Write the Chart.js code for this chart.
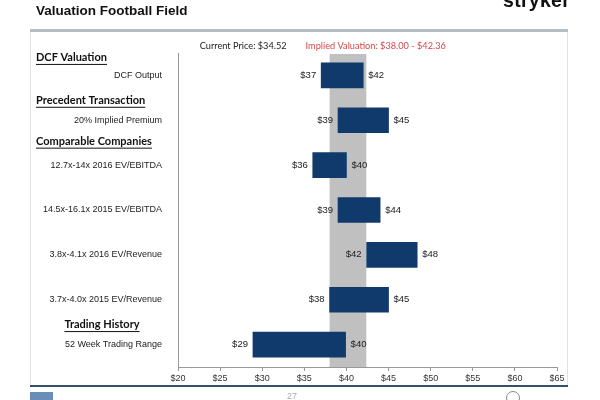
<!DOCTYPE html>
<html lang="en">
<head>
<meta charset="UTF-8">
<script src="https://cdn.jsdelivr.net/npm/chart.js@4.4.1/dist/chart.umd.min.js"></script>
<title>Valuation Football Field</title>
<style>
  body { margin: 0; background: #fff; }
  #page { position: relative; width: 600px; height: 400px; overflow: hidden; font-family: Arial, "Liberation Sans", sans-serif; }
  #chart { position: absolute; left: 0; top: 0; }
  #title { position: absolute; left: 36px; top: 3px; font-size: 13.5px; font-weight: bold; color: #111; white-space: nowrap; }
  #logo { position: absolute; left: 503px; top: -11px; font-size: 19.5px; font-weight: bold; color: #111; letter-spacing: 0.3px; }
  .rule { position: absolute; }
  #pageno { position: absolute; left: 287px; top: 391px; font-size: 9px; color: #aaa; }
</style>
</head>
<body>
<div id="page">
  <canvas id="chart" width="600" height="400"></canvas>
  <div id="title">Valuation Football Field</div>
  <div id="logo">stryker</div>
  <div class="rule" style="left:30px;top:29px;width:538px;height:3px;background:#b4bcc4;"></div>
  <div class="rule" style="left:30px;top:32px;width:1px;height:353px;background:#e2e2e2;"></div>
  <div class="rule" style="left:567px;top:32px;width:1px;height:353px;background:#e2e2e2;"></div>
  <div class="rule" style="left:30px;top:385px;width:538px;height:2px;background:#34506e;"></div>
  <div class="rule" style="left:30px;top:392px;width:23px;height:8px;background:#6a8cb8;"></div>
  <div class="rule" style="left:506px;top:391px;width:14px;height:14px;border:1px solid #888;border-radius:50%;box-sizing:border-box;"></div>
  <div id="pageno">27</div>
</div>

<script>
// data
const categories = ['DCF Output', '20% Implied Premium', '12.7x-14x 2016 EV/EBITDA',
  '14.5x-16.1x 2015 EV/EBITDA', '3.8x-4.1x 2016 EV/Revenue', '3.7x-4.0x 2015 EV/Revenue',
  '52 Week Trading Range'];
const lowValues = [37.0, 39.0, 36.0, 39.0, 42.4, 38.0, 28.9];
const highValues = [42.0, 45.0, 40.0, 44.0, 48.4, 45.0, 39.9];
const sectionHeadings = ['DCF Valuation', 'Precedent Transaction', 'Comparable Companies', '', '', '', 'Trading History'];
const xTickValues = [20, 25, 30, 35, 40, 45, 50, 55, 60, 65];
const currentPrice = 34.52;
const impliedRange = [38.00, 42.36];

const barColor = '#0f3a6b';

// grey implied valuation band behind the bars
const bandPlugin = {
  id: 'band',
  beforeDatasetsDraw(chart) {
    const { ctx, chartArea, scales } = chart;
    const x1 = scales.x.getPixelForValue(impliedRange[0]);
    const x2 = scales.x.getPixelForValue(impliedRange[1]);
    ctx.save();
    ctx.fillStyle = '#c0c0c0';
    ctx.fillRect(x1, chartArea.top + 1, x2 - x1, chartArea.bottom - chartArea.top - 1);
    ctx.restore();
  }
};

// $ labels at both ends of each bar, headings and the price notes
const headingShift = [-18, -20, -24, 0, 0, 0, -20];
const labelPlugin = {
  id: 'labels',
  afterDatasetsDraw(chart) {
    const { ctx, scales } = chart;
    const meta = chart.getDatasetMeta(0);
    ctx.save();
    ctx.font = '9.5px Arial, "Liberation Sans", sans-serif';
    ctx.fillStyle = '#222';
    ctx.textBaseline = 'middle';
    meta.data.forEach((bar, i) => {
      const left = scales.x.getPixelForValue(lowValues[i]);
      const right = scales.x.getPixelForValue(highValues[i]);
      ctx.textAlign = 'right';
      ctx.fillText('$' + Math.round(lowValues[i]), left - 5, bar.y);
      ctx.textAlign = 'left';
      ctx.fillText('$' + Math.round(highValues[i]), right + 5, bar.y);
    });

    // section headings, bold + underlined
    ctx.font = 'bold 11px Lato, "Open Sans", sans-serif';
    ctx.fillStyle = '#111';
    ctx.strokeStyle = '#111';
    ctx.lineWidth = 1;
    sectionHeadings.forEach((h, i) => {
      if (!h) return;
      const y = scales.y.getPixelForValue(i) + headingShift[i];
      const w = ctx.measureText(h).width;
      const x = i === categories.length - 1 ? 102 - w / 2 : 36;
      ctx.textAlign = 'left';
      ctx.fillText(h, x, y);
      ctx.beginPath();
      ctx.moveTo(x, y + 7);
      ctx.lineTo(x + w, y + 7);
      ctx.stroke();
    });

    // notes above the chart
    const bandLeft = scales.x.getPixelForValue(impliedRange[0]);
    ctx.font = '9.2px Lato, "Open Sans", sans-serif';
    ctx.fillStyle = '#d24a4a';
    ctx.textAlign = 'left';
    ctx.fillText('Implied Valuation: $' + impliedRange[0].toFixed(2) + ' - $' + impliedRange[1].toFixed(2), bandLeft - 24, 46);
    ctx.fillStyle = '#222';
    ctx.textAlign = 'right';
    ctx.fillText('Current Price: $' + currentPrice.toFixed(2), bandLeft - 43, 46);
    ctx.restore();
  }
};

const ctx = document.getElementById('chart').getContext('2d');
new Chart(ctx, {
  type: 'bar',
  data: {
    labels: categories,
    datasets: [{
      data: lowValues.map((v, i) => [v, highValues[i]]),
      backgroundColor: barColor,
      borderWidth: 0,
      barThickness: 25
    }]
  },
  options: {
    indexAxis: 'y',
    responsive: false,
    animation: false,
    layout: { padding: { top: 53, right: 43, bottom: 13, left: 0 } },
    plugins: {
      legend: { display: false },
      tooltip: { enabled: false }
    },
    scales: {
      x: {
        min: 20,
        max: 65,
        afterBuildTicks: axis => { axis.ticks = xTickValues.map(v => ({ value: v })); },
        afterFit: axis => { axis.height = 20; },
        ticks: {
          callback: v => '$' + v,
          font: { family: 'Arial, "Liberation Sans", sans-serif', size: 9 },
          color: '#333',
          padding: 2,
          maxRotation: 0
        },
        grid: { display: true, drawOnChartArea: false, drawTicks: true, tickLength: 4, color: '#999' },
        border: { display: true, color: '#999' }
      },
      y: {
        afterFit: axis => { axis.width = 178; },
        ticks: {
          font: { family: 'Arial, "Liberation Sans", sans-serif', size: 9 },
          color: '#222',
          padding: 16
        },
        grid: { display: false, drawTicks: false },
        border: { display: true, color: '#999' }
      }
    }
  },
  plugins: [bandPlugin, labelPlugin]
});
</script>
</body>
</html>
